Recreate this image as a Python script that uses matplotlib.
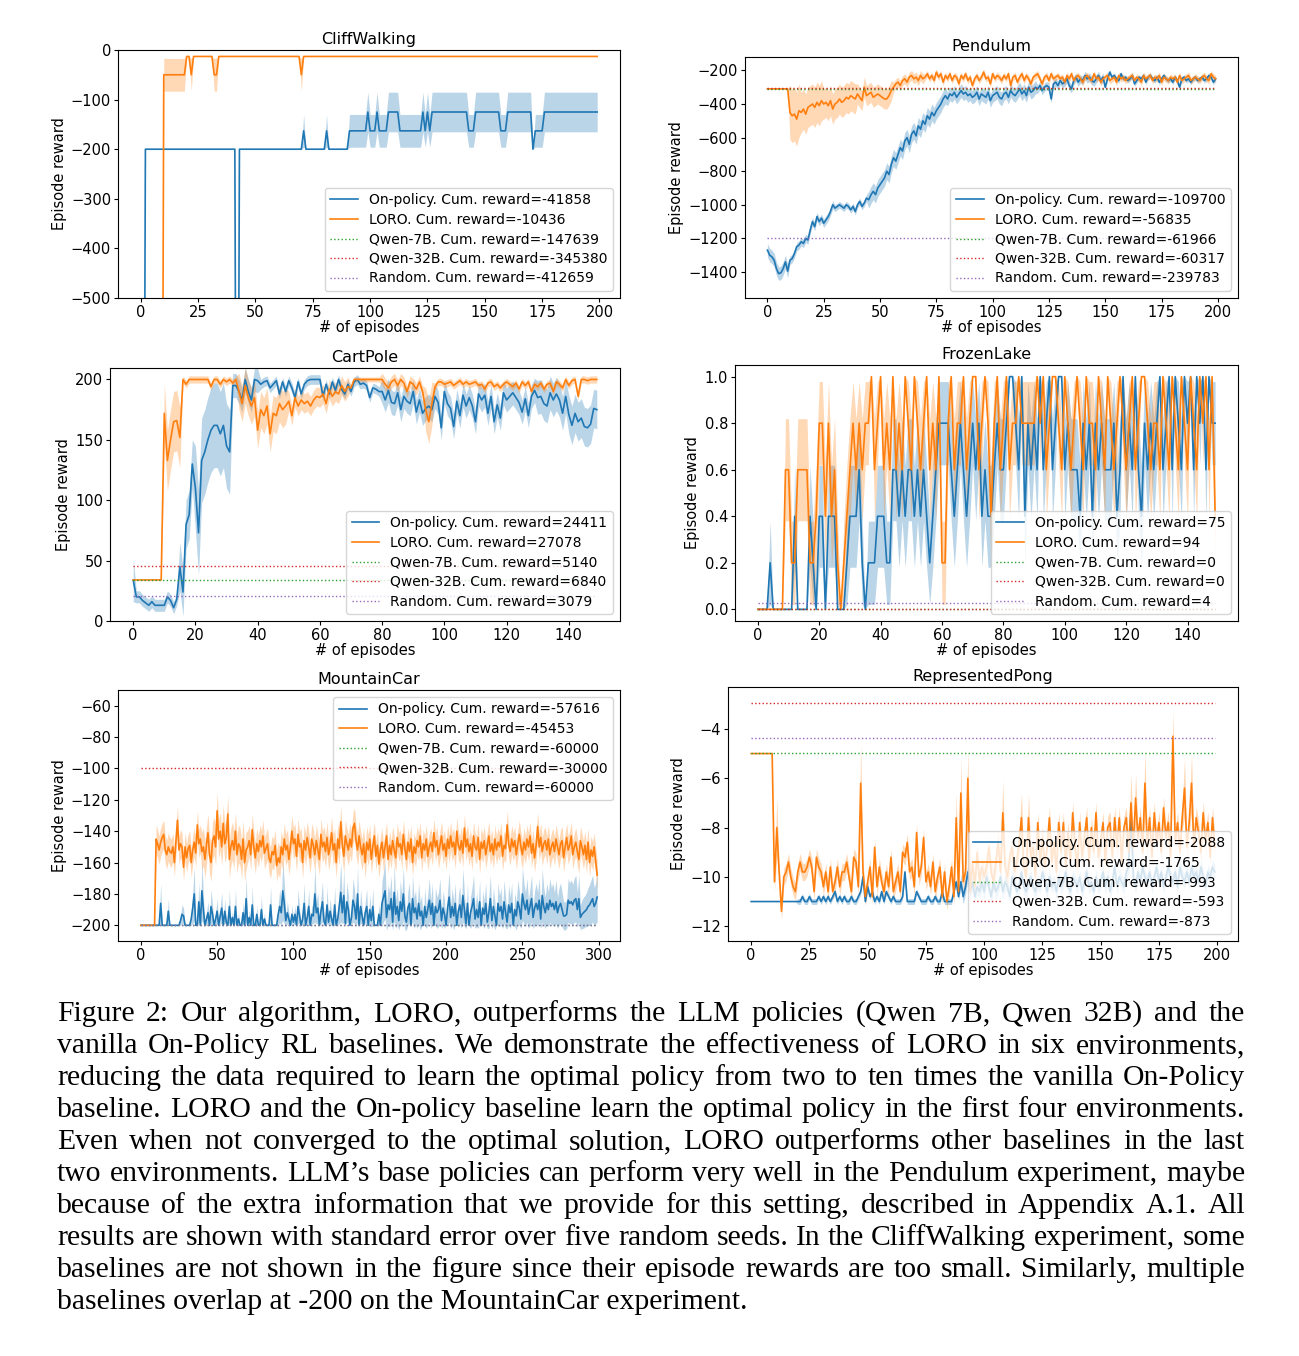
import numpy as np
import matplotlib.pyplot as plt

# ---------------- data ----------------
# CliffWalking, 200 episodes: runs of (count, mean, stderr)
cw_onpolicy_runs = [(2, -1500, 0), (40, -200, 0), (1, -1500, 0), (28, -200, 0), (1, -163, 33),
                    (9, -200, 0), (1, -163, 33), (9, -200, 0), (8, -163, 33), (1, -125, 40),
                    (3, -163, 33), (1, -125, 40), (4, -163, 33), (5, -125, 40), (10, -163, 33),
                    (1, -125, 40), (1, -163, 33), (1, -125, 40), (1, -163, 33), (16, -125, 40),
                    (3, -163, 33), (11, -125, 40), (3, -163, 33), (11, -125, 40), (1, -200, 0),
                    (4, -163, 33), (24, -125, 40)]
cw_loro_runs = [(10, -1500, 0), (10, -50, 33), (2, -13, 0), (1, -50, 33), (9, -13, 0),
                (2, -50, 33), (36, -13, 0), (1, -50, 33), (129, -13, 0)]
cw_baselines = [-738, -1727, -2063]
cw_cum = [-41858, -10436, -147639, -345380, -412659]

# Pendulum, 200 episodes
pd_onpolicy = [
    -1270, -1300, -1310, -1330, -1380, -1410, -1405, -1380, -1340, -1395,
    -1330, -1320, -1290, -1250, -1240, -1220, -1230, -1200, -1210, -1150,
    -1100, -1130, -1070, -1100, -1080, -1110, -1090, -1070, -1040, -1000,
    -1020, -1010, -1000, -1010, -1020, -1000, -1010, -1030, -1010, -1040,
    -1000, -980, -1010, -990, -960, -970, -940, -920, -940, -900,
    -880, -860, -840, -800, -820, -760, -720, -740, -700, -660,
    -680, -620, -600, -640, -580, -560, -590, -530, -550, -500,
    -520, -470, -490, -450, -470, -440, -420, -400, -370, -350,
    -370, -340, -350, -330, -360, -340, -320, -340, -330, -350,
    -340, -360, -350, -330, -370, -340, -350, -360, -330, -380,
    -350, -340, -330, -360, -370, -340, -330, -360, -320, -340,
    -350, -330, -310, -340, -320, -350, -300, -330, -320, -300,
    -310, -290, -320, -300, -290, -300, -370, -280, -270, -290,
    -260, -280, -270, -250, -290, -310, -260, -240, -270, -250,
    -260, -230, -250, -240, -260, -270, -250, -230, -260, -240,
    -300, -250, -210, -240, -230, -250, -260, -220, -250, -240,
    -260, -250, -230, -280, -260, -240, -250, -230, -270, -240,
    -230, -250, -260, -240, -270, -250, -230, -250, -260, -250,
    -270, -240, -260, -300, -250, -240, -260, -250, -270, -250,
    -240, -260, -250, -240, -260, -250, -230, -240, -270, -250]
pd_onpolicy_se_runs = [(10, 40), (20, 25), (15, 20), (35, 50), (40, 40), (30, 25), (50, 15)]
pd_loro = [
    -310, -310, -310, -310, -310, -310, -310, -310, -310, -310,
    -450, -470, -460, -490, -440, -450, -430, -460, -420, -410,
    -400, -420, -390, -410, -380, -400, -390, -410, -380, -430,
    -400, -390, -370, -390, -380, -360, -370, -350, -360, -370,
    -340, -360, -380, -300, -350, -340, -330, -360, -350, -340,
    -350, -360, -370, -370, -350, -320, -300, -280, -270, -290,
    -260, -250, -270, -240, -230, -250, -240, -260, -230, -250,
    -240, -220, -250, -230, -260, -210, -240, -220, -270, -230,
    -250, -220, -260, -230, -240, -280, -230, -250, -220, -260,
    -240, -290, -250, -230, -260, -240, -210, -250, -240, -280,
    -220, -250, -230, -240, -260, -230, -250, -220, -290, -240,
    -230, -270, -240, -220, -260, -230, -250, -280, -240, -230,
    -220, -250, -280, -240, -230, -260, -220, -250, -240, -230,
    -250, -240, -270, -230, -250, -220, -260, -240, -230, -250,
    -270, -240, -230, -250, -260, -220, -250, -240, -270, -250,
    -240, -230, -260, -250, -240, -270, -230, -250, -240, -260,
    -250, -240, -230, -260, -240, -250, -270, -230, -250, -240,
    -230, -260, -240, -250, -230, -270, -240, -250, -260, -240,
    -250, -240, -270, -230, -260, -250, -240, -230, -260, -250,
    -240, -250, -260, -240, -230, -250, -260, -220, -240, -250]
pd_loro_se_runs = [(10, 0), (5, 160), (10, 120), (15, 90), (16, 60), (14, 30), (130, 20)]
pd_baselines = [-310, -302, -1199]
pd_cum = [-109700, -56835, -61966, -60317, -239783]

# CartPole, 150 episodes
cp_onpolicy = [
    34, 20, 20, 17, 15, 13, 16, 13, 13, 13,
    13, 20, 17, 11, 18, 45, 24, 80, 88, 130,
    110, 73, 133, 140, 150, 158, 162, 162, 155, 162,
    145, 140, 195, 195, 190, 183, 200, 190, 183, 200,
    199, 196, 198, 199, 193, 196, 199, 188, 198, 190,
    199, 193, 185, 198, 188, 196, 199, 200, 200, 200,
    200, 186, 196, 188, 198, 191, 200, 192, 188, 196,
    190, 198, 200, 196, 197, 195, 185, 193, 192, 190,
    190, 183, 191, 181, 180, 189, 175, 186, 182, 180,
    190, 173, 183, 172, 176, 178, 175, 186, 181, 160,
    190, 180, 176, 161, 182, 170, 187, 178, 185, 178,
    165, 188, 183, 187, 172, 186, 165, 179, 168, 189,
    183, 186, 189, 185, 181, 173, 184, 170, 186, 191,
    185, 186, 180, 178, 189, 183, 188, 183, 172, 186,
    171, 162, 172, 165, 168, 161, 160, 163, 176, 175]
cp_onpolicy_se_runs = [(1, 18), (14, 5), (5, 20), (12, 35), (9, 10), (39, 4), (50, 10), (10, 14), (10, 16)]
cp_loro = [
    34, 34, 34, 34, 34, 34, 34, 34, 34, 34,
    172, 133, 150, 165, 166, 152, 200, 196, 200, 200,
    200, 200, 200, 200, 200, 194, 200, 200, 196, 200,
    198, 200, 197, 200, 190, 180, 195, 185, 178, 185,
    158, 175, 170, 178, 155, 172, 170, 180, 175, 178,
    182, 170, 185, 178, 183, 180, 182, 178, 183, 186,
    185, 188, 180, 192, 186, 190, 188, 195, 190, 194,
    193, 200, 200, 200, 200, 200, 200, 200, 200, 200,
    200, 196, 193, 198, 200, 195, 200, 197, 190, 198,
    196, 192, 198, 190, 175, 165, 180, 194, 198, 198,
    196, 197, 198, 195, 197, 199, 196, 198, 196, 197,
    198, 195, 196, 192, 197, 198, 194, 196, 193, 196,
    198, 196, 194, 197, 192, 198, 195, 198, 190, 196,
    194, 197, 192, 196, 197, 190, 198, 196, 193, 200,
    195, 199, 200, 186, 200, 200, 199, 200, 200, 200]
cp_loro_se_runs = [(10, 0), (6, 25), (18, 3), (16, 15), (20, 8), (10, 2), (14, 5), (3, 18), (53, 3)]
cp_baselines = [34.3, 45.6, 20.5]
cp_cum = [24411, 27078, 5140, 6840, 3079]

# FrozenLake, 150 episodes: successful seeds out of 5
fl_onpolicy_hits = [
    0, 0, 0, 0, 1, 0, 0, 0, 0, 0,
    0, 0, 2, 0, 0, 0, 0, 2, 1, 0,
    2, 2, 0, 2, 2, 2, 0, 0, 0, 1,
    2, 2, 2, 3, 1, 0, 1, 1, 1, 2,
    2, 2, 1, 1, 3, 3, 2, 3, 2, 3,
    3, 2, 3, 2, 3, 2, 1, 2, 3, 4,
    4, 4, 4, 3, 2, 3, 4, 3, 2, 3,
    4, 3, 4, 2, 3, 2, 2, 3, 4, 3,
    3, 4, 5, 5, 4, 3, 5, 2, 4, 3,
    4, 3, 5, 3, 4, 5, 3, 4, 5, 5,
    3, 4, 3, 3, 3, 2, 4, 3, 4, 2,
    4, 3, 4, 3, 3, 3, 4, 2, 3, 5,
    3, 4, 3, 5, 3, 2, 4, 3, 4, 3,
    4, 5, 3, 4, 5, 3, 5, 4, 3, 5,
    4, 5, 3, 5, 4, 5, 3, 5, 4, 4]
fl_loro_hits = [
    0, 0, 0, 0, 0, 0, 0, 0, 0, 3,
    3, 1, 1, 3, 3, 3, 3, 1, 1, 2,
    4, 4, 2, 4, 2, 3, 1, 0, 1, 2,
    3, 4, 3, 4, 3, 4, 4, 5, 3, 4,
    5, 3, 4, 3, 5, 3, 4, 3, 5, 4,
    3, 5, 4, 3, 4, 5, 3, 4, 3, 5,
    1, 1, 4, 5, 3, 4, 4, 5, 3, 4,
    5, 5, 3, 4, 5, 4, 2, 4, 5, 3,
    4, 5, 3, 4, 4, 5, 4, 4, 4, 4,
    4, 5, 4, 5, 3, 4, 5, 5, 4, 3,
    5, 4, 3, 4, 5, 4, 3, 5, 4, 4,
    3, 5, 4, 3, 5, 4, 3, 4, 5, 4,
    3, 4, 5, 3, 4, 5, 5, 4, 3, 4,
    4, 3, 5, 4, 3, 5, 4, 3, 5, 4,
    3, 5, 4, 3, 5, 4, 5, 3, 5, 2]
fl_seeds = 5
fl_baselines = [0.0, 0.0, 0.027]
fl_cum = [75, 94, 0, 0, 4]

# MountainCar, 300 episodes
mc_onpolicy = [
    -200, -200, -200, -200, -200, -200, -200, -200, -200, -200,
    -200, -200, -200, -186, -200, -200, -200, -200, -191, -200,
    -200, -200, -200, -200, -200, -200, -197, -193, -194, -200,
    -200, -200, -200, -196, -189, -180, -200, -200, -185, -200,
    -178, -190, -200, -196, -192, -200, -188, -193, -200, -196,
    -191, -200, -194, -189, -200, -191, -198, -200, -188, -200,
    -195, -200, -188, -200, -196, -200, -200, -192, -200, -183,
    -200, -195, -200, -187, -200, -200, -193, -200, -200, -190,
    -200, -196, -200, -200, -200, -187, -200, -200, -200, -200,
    -193, -188, -192, -178, -186, -197, -192, -196, -200, -193,
    -198, -193, -200, -188, -194, -200, -196, -186, -200, -195,
    -188, -200, -193, -194, -180, -192, -189, -200, -191, -185,
    -197, -200, -187, -198, -191, -196, -200, -187, -200, -196,
    -188, -179, -192, -181, -199, -185, -190, -200, -195, -184,
    -188, -196, -180, -200, -188, -194, -200, -192, -188, -200,
    -190, -197, -188, -200, -200, -200, -193, -200, -186, -182,
    -178, -195, -187, -190, -183, -198, -179, -193, -188, -197,
    -185, -191, -180, -194, -198, -189, -186, -200, -183, -192,
    -189, -196, -186, -194, -191, -200, -188, -195, -190, -184,
    -193, -186, -200, -188, -192, -190, -184, -197, -189, -193,
    -200, -189, -182, -195, -188, -194, -186, -200, -191, -187,
    -195, -181, -190, -199, -186, -200, -192, -188, -183, -196,
    -190, -195, -185, -200, -189, -193, -186, -198, -192, -183,
    -197, -188, -194, -200, -186, -191, -188, -196, -185, -192,
    -198, -187, -192, -186, -200, -190, -194, -185, -189, -196,
    -180, -186, -190, -184, -193, -188, -183, -195, -189, -186,
    -190, -184, -196, -181, -188, -192, -186, -190, -184, -188,
    -186, -190, -185, -192, -188, -186, -190, -194, -194, -193,
    -184, -186, -185, -187, -184, -183, -190, -183, -195, -193,
    -192, -191, -190, -188, -187, -185, -183, -188, -186, -182]
mc_onpolicy_se = [
    0, 0, 0, 0, 0, 0, 0, 0, 0, 0,
    0, 0, 0, 13, 0, 0, 0, 0, 8, 0,
    0, 0, 0, 0, 0, 0, 3, 6, 5, 0,
    0, 0, 0, 4, 10, 17, 0, 0, 13, 0,
    19, 9, 0, 4, 7, 0, 11, 6, 0, 4,
    8, 0, 5, 10, 0, 8, 2, 0, 11, 0,
    4, 0, 11, 0, 4, 0, 0, 7, 0, 15,
    0, 4, 0, 12, 0, 0, 6, 0, 0, 9,
    0, 4, 0, 0, 0, 12, 0, 0, 0, 0,
    6, 11, 7, 19, 13, 3, 7, 4, 0, 6,
    2, 6, 0, 11, 5, 0, 4, 13, 0, 4,
    11, 0, 6, 5, 18, 7, 10, 0, 8, 13,
    3, 0, 12, 2, 8, 4, 0, 12, 0, 4,
    11, 19, 7, 17, 1, 13, 9, 0, 4, 14,
    11, 4, 18, 0, 11, 5, 0, 7, 11, 0,
    10, 4, 12, 0, 0, 0, 7, 0, 14, 16,
    18, 8, 13, 11, 15, 5, 18, 9, 12, 6,
    14, 10, 17, 9, 5, 11, 13, 0, 15, 10,
    11, 6, 13, 9, 10, 0, 12, 7, 10, 14,
    9, 13, 0, 12, 10, 11, 14, 5, 11, 9,
    0, 11, 16, 7, 12, 9, 13, 0, 10, 12,
    7, 17, 11, 3, 13, 0, 10, 12, 15, 6,
    11, 7, 14, 0, 11, 9, 13, 4, 10, 15,
    5, 12, 9, 0, 13, 10, 12, 6, 14, 10,
    4, 13, 10, 13, 0, 11, 9, 14, 11, 6,
    17, 13, 11, 14, 9, 12, 15, 7, 11, 13,
    11, 14, 6, 17, 12, 10, 13, 11, 14, 12,
    13, 11, 14, 10, 12, 13, 11, 9, 9, 9,
    14, 13, 14, 13, 14, 15, 11, 15, 8, 9,
    10, 10, 11, 12, 13, 14, 15, 12, 13, 16]
mc_loro = [
    -200, -200, -200, -200, -200, -200, -200, -200, -200, -200,
    -145, -148, -152, -147, -144, -142, -152, -155, -150, -153,
    -154, -150, -160, -146, -133, -152, -148, -150, -163, -150,
    -157, -151, -149, -160, -152, -147, -154, -136, -148, -145,
    -153, -150, -158, -149, -141, -155, -160, -146, -143, -150,
    -127, -145, -140, -150, -135, -148, -144, -129, -158, -150,
    -146, -152, -140, -155, -148, -150, -158, -145, -160, -152,
    -150, -146, -155, -139, -150, -157, -148, -153, -146, -150,
    -143, -154, -151, -148, -157, -160, -153, -155, -149, -162,
    -157, -160, -150, -155, -145, -152, -149, -158, -150, -140,
    -148, -145, -156, -142, -150, -148, -160, -146, -152, -144,
    -150, -157, -145, -149, -155, -146, -152, -158, -142, -150,
    -147, -153, -144, -155, -150, -141, -152, -148, -160, -145,
    -151, -134, -149, -156, -143, -148, -152, -145, -150, -138,
    -135, -146, -152, -143, -150, -155, -148, -160, -147, -152,
    -145, -158, -150, -143, -156, -149, -161, -152, -147, -157,
    -150, -143, -158, -149, -155, -146, -152, -157, -144, -150,
    -148, -155, -142, -151, -158, -147, -153, -145, -160, -150,
    -154, -146, -150, -143, -157, -148, -152, -145, -156, -150,
    -147, -153, -141, -150, -146, -155, -149, -143, -152, -148,
    -156, -145, -151, -143, -150, -147, -155, -140, -149, -152,
    -146, -154, -138, -150, -145, -153, -148, -156, -143, -150,
    -152, -144, -158, -147, -151, -146, -155, -149, -143, -153,
    -148, -155, -145, -152, -147, -150, -143, -156, -149, -151,
    -136, -148, -153, -145, -150, -146, -155, -148, -142, -150,
    -155, -147, -152, -145, -150, -143, -154, -148, -157, -149,
    -137, -150, -144, -153, -148, -146, -152, -145, -155, -150,
    -147, -153, -145, -150, -155, -148, -146, -157, -150, -144,
    -152, -149, -143, -155, -150, -147, -153, -158, -146, -150,
    -155, -149, -158, -147, -160, -152, -156, -150, -159, -168]
mc_loro_se_runs = [(10, 0), (30, 9), (30, 12), (80, 10), (150, 9)]
mc_baselines = [-200, -100, -200]
mc_cum = [-57616, -45453, -60000, -30000, -60000]

# RepresentedPong, 200 episodes
pg_onpolicy = [
    -11, -11, -11, -11, -11, -11, -11, -11, -11, -11,
    -11, -11, -11, -11, -11, -11, -11, -11, -11, -11,
    -11, -11, -10.8, -11, -11, -10.8, -11, -11, -11, -10.8,
    -11, -10.8, -11, -10.8, -11, -10.8, -10.6, -11, -10.8, -11,
    -10.8, -11, -11, -10.8, -11, -11, -10.8, -10.6, -10.0, -11,
    -10.4, -10.8, -10.6, -11, -10.8, -11, -10.6, -11, -10.6, -10.8,
    -11, -10.8, -11, -11, -11, -10.8, -9.8, -11, -11, -11,
    -11, -10.6, -10.8, -11, -11, -11, -10.8, -11, -11, -10.8,
    -11, -11, -10.6, -11, -11, -11, -11, -10.6, -10.2, -10.8,
    -10.2, -10.8, -10.4, -9.8, -10.6, -10.2, -10.8, -10.4, -10.6, -10.2,
    -10.6, -10.0, -10.4, -10.8, -10.2, -10.6, -10.4, -10.0, -10.6, -10.2,
    -10.4, -10.8, -10.0, -10.2, -10.6, -10.4, -9.8, -10.4, -10.6, -10.2,
    -10.0, -10.4, -10.6, -10.2, -10.4, -9.8, -10.2, -10.6, -10.0, -10.4,
    -10.2, -10.6, -10.0, -10.4, -10.2, -9.8, -10.4, -10.6, -10.0, -10.2,
    -10.4, -10.0, -10.6, -10.2, -9.8, -10.4, -10.2, -10.6, -10.0, -10.4,
    -10.2, -9.8, -10.4, -10.0, -10.6, -10.2, -9.6, -10.4, -10.0, -10.2,
    -10.4, -9.8, -9.6, -7.3, -10.0, -10.4, -9.8, -10.2, -9.6, -10.0,
    -10.2, -9.8, -10.4, -10.0, -9.6, -10.2, -9.8, -10.4, -10.0, -9.6,
    -10.0, -10.2, -9.8, -10.4, -9.6, -10.0, -10.2, -9.8, -10.2, -9.6,
    -10.0, -9.8, -10.2, -9.6, -10.0, -10.4, -9.8, -10.0, -9.6, -9.8]
pg_onpolicy_se_runs = [(20, 0), (70, 0.12), (110, 0.3)]
pg_loro = [
    -5, -5, -5, -5, -5, -5, -5, -5, -5, -5,
    -10.2, -8.0, -9.8, -11.4, -10.0, -9.8, -9.4, -10.0, -10.4, -10.6,
    -9.8, -9.4, -9.8, -9.8, -9.6, -9.2, -9.6, -10.6, -9.2, -9.6,
    -9.8, -10.4, -9.8, -10.6, -9.6, -10.6, -10.2, -9.6, -10.4, -9.8,
    -9.8, -9.4, -10.0, -10.6, -9.2, -9.4, -10.4, -6.2, -9.8, -10.8,
    -10.2, -9.6, -10.8, -8.8, -10.4, -9.6, -10.2, -10.6, -9.8, -10.4,
    -9.2, -10.6, -10.2, -9.8, -10.6, -9.0, -9.2, -8.6, -9.8, -9.6,
    -10.4, -8.2, -10.0, -9.6, -8.4, -10.2, -9.8, -10.4, -9.4, -10.6,
    -10.0, -9.6, -10.8, -9.8, -11.0, -10.4, -9.6, -10.8, -7.6, -10.6,
    -6.6, -10.2, -9.8, -6.0, -10.6, -9.4, -10.4, -9.0, -10.2, -9.6,
    -10.0, -9.6, -8.8, -9.8, -10.2, -9.4, -8.6, -9.8, -7.4, -9.6,
    -10.0, -9.2, -8.8, -9.8, -9.4, -8.6, -7.6, -9.6, -10.0, -7.6,
    -9.2, -8.8, -10.0, -7.8, -9.4, -8.4, -9.6, -8.8, -7.6, -9.4,
    -8.6, -9.8, -7.8, -9.0, -7.8, -9.6, -8.2, -9.4, -7.4, -8.8,
    -9.6, -7.8, -9.2, -8.4, -7.6, -9.4, -8.0, -9.0, -7.4, -9.2,
    -8.6, -7.8, -9.4, -8.0, -7.8, -9.2, -7.6, -8.8, -7.6, -9.4,
    -8.0, -7.6, -9.0, -7.0, -8.8, -6.8, -8.4, -7.6, -9.0, -6.2,
    -8.8, -7.6, -9.2, -7.4, -8.6, -7.8, -9.0, -7.2, -8.4, -7.8,
    -9.2, -4.3, -8.6, -7.8, -9.0, -7.6, -6.4, -8.8, -7.8, -6.2,
    -8.8, -7.6, -8.2, -9.0, -7.4, -8.6, -7.8, -9.2, -7.6, -8.8]
pg_loro_se_runs = [(10, 0), (90, 0.35), (100, 0.45)]
pg_loro_se_peaks = {11: 1.2, 47: 1.6, 88: 1.0, 90: 1.4, 93: 1.2, 108: 1.3, 116: 1.0,
                    119: 1.0, 163: 1.2, 165: 1.0, 169: 1.3, 181: 1.1, 186: 1.2, 189: 1.2}
pg_baselines = [-4.965, -2.965, -4.365]
pg_cum = [-2088, -1765, -993, -593, -873]

caption = [
    "Figure 2: Our algorithm, LORO, outperforms the LLM policies (Qwen 7B, Qwen 32B) and the",
    "vanilla On-Policy RL baselines. We demonstrate the effectiveness of LORO in six environments,",
    "reducing the data required to learn the optimal policy from two to ten times the vanilla On-Policy",
    "baseline. LORO and the On-policy baseline learn the optimal policy in the first four environments.",
    "Even when not converged to the optimal solution, LORO outperforms other baselines in the last",
    "two environments. LLM\u2019s base policies can perform very well in the Pendulum experiment, maybe",
    "because of the extra information that we provide for this setting, described in Appendix A.1. All",
    "results are shown with standard error over five random seeds. In the CliffWalking experiment, some",
    "baselines are not shown in the figure since their episode rewards are too small. Similarly, multiple",
    "baselines overlap at -200 on the MountainCar experiment.",
]


def from_runs(runs):
    vals = []
    for n, v in runs:
        vals += [v] * n
    return np.array(vals, float)


def runs3(runs):
    mean, se = [], []
    for n, m, s in runs:
        mean += [m] * n
        se += [s] * n
    return np.array(mean, float), np.array(se, float)


W, H = 1299, 1356
fig = plt.figure(figsize=(W / 100, H / 100), dpi=100)


def add_axes(l, t, r, b):
    return fig.add_axes([l / W, 1 - b / H, (r - l) / W, (b - t) / H])


names = ["On-policy", "LORO", "Qwen-7B", "Qwen-32B", "Random"]


def panel(ax, title, op, op_se, lo, lo_se, base, cum, loc):
    op, op_se = np.asarray(op, float), np.asarray(op_se, float)
    lo, lo_se = np.asarray(lo, float), np.asarray(lo_se, float)
    x = np.arange(len(op))
    labels = [f"{n}. Cum. reward={c}" for n, c in zip(names, cum)]
    ax.plot(x, op, color="C0", lw=1.2, label=labels[0])
    ax.fill_between(x, op - op_se, op + op_se, color="C0", alpha=0.3, lw=0)
    ax.plot(x, lo, color="C1", lw=1.2, label=labels[1])
    ax.fill_between(x, lo - lo_se, lo + lo_se, color="C1", alpha=0.3, lw=0)
    for val, col, lab in zip(base, ["C2", "C3", "C4"], labels[2:]):
        ax.plot(x, np.full(len(x), val), ":", color=col, lw=1.0, label=lab)
    ax.set_title(title, fontsize=11.5, pad=4)
    ax.set_xlabel("# of episodes", fontsize=10.5, labelpad=0)
    ax.set_ylabel("Episode reward", fontsize=10.5, labelpad=3)
    ax.tick_params(labelsize=10.5, length=3, pad=2)
    ax.legend(loc=loc, fontsize=10, labelspacing=0.4)


# CliffWalking
ax = add_axes(118, 50, 620, 298)
cw_op, cw_op_se = runs3(cw_onpolicy_runs)
cw_lo, cw_lo_se = runs3(cw_loro_runs)
panel(ax, "CliffWalking", cw_op, cw_op_se, cw_lo, cw_lo_se, cw_baselines, cw_cum, "lower right")
ax.set_ylim(-500, 0)
ax.set_yticks([0, -100, -200, -300, -400, -500])

# Pendulum
ax = add_axes(745, 57, 1238, 298)
panel(ax, "Pendulum", pd_onpolicy, from_runs(pd_onpolicy_se_runs), pd_loro,
      from_runs(pd_loro_se_runs), pd_baselines, pd_cum, "lower right")
ax.set_ylim(-1555, -120)

# CartPole
ax = add_axes(110, 368, 620, 621)
panel(ax, "CartPole", cp_onpolicy, from_runs(cp_onpolicy_se_runs), cp_loro,
      from_runs(cp_loro_se_runs), cp_baselines, cp_cum, "lower right")
ax.set_ylim(0, 209.5)

# FrozenLake
ax = add_axes(735, 365, 1238, 621)
fl_op = np.array(fl_onpolicy_hits) / fl_seeds
fl_lo = np.array(fl_loro_hits) / fl_seeds
panel(ax, "FrozenLake", fl_op, np.sqrt(fl_op * (1 - fl_op) / fl_seeds), fl_lo,
      np.sqrt(fl_lo * (1 - fl_lo) / fl_seeds), fl_baselines, fl_cum, "lower right")
ax.set_ylim(-0.05, 1.05)

# MountainCar
ax = add_axes(118, 690, 620, 941)
panel(ax, "MountainCar", mc_onpolicy, mc_onpolicy_se, mc_loro, from_runs(mc_loro_se_runs),
      mc_baselines, mc_cum, "upper right")
ax.set_ylim(-210, -50)
ax.set_yticks(np.arange(-200, -59, 20))

# RepresentedPong
ax = add_axes(728, 687, 1238, 941)
pg_lo_se = from_runs(pg_loro_se_runs)
for k, v in pg_loro_se_peaks.items():
    pg_lo_se[k] = v
panel(ax, "RepresentedPong", pg_onpolicy, from_runs(pg_onpolicy_se_runs), pg_loro, pg_lo_se,
      pg_baselines, pg_cum, "lower right")
ax.set_ylim(-12.6, -2.3)
ax.set_yticks([-12, -10, -8, -6, -4])

# caption, justified
renderer = fig.canvas.get_renderer()
serif = "Liberation Serif"
cap_left, cap_right, cap_y0, cap_step = 57, 1245, 1014, 32


def width_of(s, size):
    t = fig.text(0, 0, s, fontsize=size, family=serif)
    w = t.get_window_extent(renderer).width
    t.remove()
    return w


probe = 20.0
widest = max(width_of(line, probe) for line in caption[:-1])
cap_size = probe * (cap_right - cap_left) * 1.0 / widest

for i, line in enumerate(caption):
    y = 1 - (cap_y0 + cap_step * i) / H
    if i == len(caption) - 1:
        fig.text(cap_left / W, y, line, fontsize=cap_size, family=serif, va="center")
        continue
    words = line.split(" ")
    ws = [width_of(w, cap_size) for w in words]
    gap = (cap_right - cap_left - sum(ws)) / (len(words) - 1)
    xpos = cap_left
    for w, wd in zip(words, ws):
        fig.text(xpos / W, y, w, fontsize=cap_size, family=serif, va="center")
        xpos += wd + gap

fig.savefig("out.png", dpi=100)
